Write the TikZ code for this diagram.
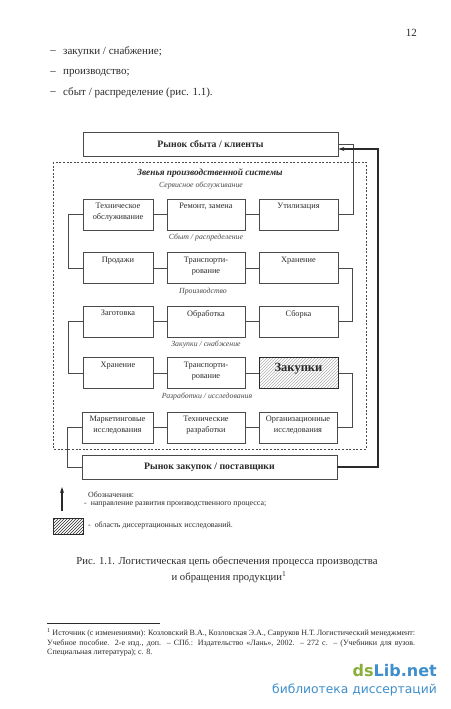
\documentclass[tikz,border=0pt]{standalone}
\usepackage{fontspec}
\setmainfont{Liberation Serif}
\newfontfamily\wmfont{DejaVu Sans}
\usetikzlibrary{patterns,arrows.meta}
\definecolor{ink}{HTML}{2A2A2A}
\definecolor{linec}{HTML}{4A4A4A}
\definecolor{wmgreen}{HTML}{8AAE3A}
\definecolor{wmblue}{HTML}{3E8FCC}
\tikzset{
  box/.style={draw=linec, line width=0.7pt, minimum height=31pt, inner sep=0pt},
  boxtxt/.style={font=\fontsize{8.3}{10.5}\selectfont, text=ink, align=center, anchor=north, inner sep=0pt},
  market/.style={draw=linec, line width=0.8pt, minimum width=255pt, minimum height=24pt, inner sep=0pt, font=\bfseries\fontsize{9.8}{11}\selectfont, text=ink},
  conn/.style={draw=linec, line width=0.6pt},
  rowlbl/.style={font=\itshape\fontsize{7.8}{9}\selectfont, text=ink!85, inner sep=0pt},
  bodytxt/.style={font=\fontsize{11}{13}\selectfont, text=ink, inner sep=0pt, anchor=west},
  legtxt/.style={font=\fontsize{7.9}{9}\selectfont, text=ink, anchor=west, inner sep=0pt},
  fntxt/.style={font=\fontsize{8}{10}\selectfont, text=ink, anchor=west, inner sep=0pt},
  captxt/.style={font=\fontsize{10.7}{13}\selectfont, text=ink, inner sep=0pt},
}
\begin{document}
\begin{tikzpicture}[x=1pt,y=-1pt]
\useasboundingbox[fill=white] (0,0) rectangle (450,709);

% page number and bullet list
\node[bodytxt, anchor=east] (pnum) at (417,33) {12};
\node[bodytxt, anchor=center] (d1) at (53,52) {--};
\node[bodytxt, anchor=center] (d2) at (53,73) {--};
\node[bodytxt, anchor=center] (d3) at (53,93) {--};
\node[bodytxt] (t1) at (63,52) {закупки / снабжение;};
\node[bodytxt] (t2) at (63,73) {производство;};
\node[bodytxt] (t3) at (63,93) {сбыт / распределение (рис. 1.1).};

% dashed frame
\draw[linec, line width=0.6pt, dash pattern=on 2pt off 1.6pt] (53,162) rectangle (366,449);

% markets
\node[market] (top) at (210.5,144.5) {Рынок сбыта / клиенты};
\node[market] (bot) at (209.5,467) {Рынок закупок / поставщики};

% headings
\node[font=\bfseries\itshape\fontsize{9.3}{11}\selectfont, text=ink, inner sep=0pt] (zv) at (210,173) {Звенья производственной системы};
\node[rowlbl] (l1) at (201,186) {Сервисное обслуживание};
\node[rowlbl] (l2) at (206,238) {Сбыт / распределение};
\node[rowlbl] (l3) at (203,292) {Производство};
\node[rowlbl] (l4) at (206,345) {Закупки / снабжение};
\node[rowlbl] (l5) at (207,397) {Разработки / исследования};

% boxes: columns x: 83-153, 167-245, 259-338
% row 1
\node[box, minimum width=70pt] (a1) at (118,214.5) {};
\node[box, minimum width=78pt] (a2) at (206,214.5) {};
\node[box, minimum width=79pt] (a3) at (298.5,214.5) {};
\node[boxtxt] (a1t) at (118,203) {Техническое\\обслуживание};
\node[boxtxt] (a2t) at (206,203) {Ремонт, замена};
\node[boxtxt] (a3t) at (298.5,203) {Утилизация};
% row 2
\node[box, minimum width=70pt] (b1) at (118,268) {};
\node[box, minimum width=78pt] (b2) at (206,268) {};
\node[box, minimum width=79pt] (b3) at (298.5,268) {};
\node[boxtxt] (b1t) at (118,257) {Продажи};
\node[boxtxt] (b2t) at (206,257) {Транспорти-\\рование};
\node[boxtxt] (b3t) at (298.5,257) {Хранение};
% row 3
\node[box, minimum width=70pt] (c1) at (118,321.5) {};
\node[box, minimum width=78pt] (c2) at (206,321.5) {};
\node[box, minimum width=79pt] (c3) at (298.5,321.5) {};
\node[boxtxt] (c1t) at (118,310) {Заготовка};
\node[boxtxt] (c2t) at (206,310) {Обработка};
\node[boxtxt] (c3t) at (298.5,310) {Сборка};
% row 4
\node[box, minimum width=70pt] (e1) at (118,373) {};
\node[box, minimum width=78pt] (e2) at (206,373) {};
\node[box, minimum width=79pt, draw=ink, line width=1pt, pattern=north east lines, pattern color=black!30] (e3) at (298.5,373) {};
\node[boxtxt] (e1t) at (118,362) {Хранение};
\node[boxtxt] (e2t) at (206,362) {Транспорти-\\рование};
\node[boxtxt, font=\bfseries\fontsize{12.5}{14}\selectfont] (e3t) at (298.5,363) {Закупки};
% row 5
\node[box, minimum width=71pt] (f1) at (117.5,427.5) {};
\node[box, minimum width=78pt] (f2) at (206,427.5) {};
\node[box, minimum width=78pt] (f3) at (298,427.5) {};
\node[boxtxt] (f1t) at (117.5,416) {Маркетинговые\\исследования};
\node[boxtxt] (f2t) at (206,416) {Технические\\разработки};
\node[boxtxt] (f3t) at (298,416) {Организационные\\исследования};

% horizontal connectors inside rows
\foreach \r in {a,b,c,e,f}{
  \draw[conn] (\r1.east) -- (\r2.west);
  \draw[conn] (\r2.east) -- (\r3.west);
}
% serpentine connectors
\draw[conn] (f1.west) -- ++(-14,0) |- (bot.west);
\draw[conn] (f3.east) -- (352,427.5) |- (e3.east);
\draw[conn] (e1.west) -- ++(-14,0) |- (c1.west);
\draw[conn] (c3.east) -- (352,321.5) |- (b3.east);
\draw[conn] (b1.west) -- ++(-14,0) |- (a1.west);
\draw[conn] (a3.east) -- (353,214.5) |- (top.east);

% main thick arrow
\coordinate (arrin) at ([yshift=-4.5pt]top.east);
\draw[draw=ink, line width=1.4pt, -{Stealth[length=6pt,width=4pt]}] (bot.east) -- (378,467) |- (arrin);

% legend
\coordinate (lgA) at (62,511);
\coordinate (lgB) at (62,487);
\draw[draw=ink, line width=1.2pt, -{Stealth[length=6pt,width=4pt]}] (lgA) -- (lgB);
\node[legtxt] (lg1) at (88,495) {Обозначения:};
\node[legtxt] (lg2) at (84,504.5) {-\ \ направление развития производственного процесса;};
\node[draw=ink, line width=0.8pt, pattern=north east lines, pattern color=ink, minimum width=30pt, minimum height=16pt, inner sep=0pt] (lgbox) at (68,526) {};
\node[legtxt] (lg3) at (88,526) {-\ \ область диссертационных исследований.};

% caption
\node[captxt] (cap1) at (227,562) {Рис. 1.1. Логистическая цепь обеспечения процесса производства};
\node[captxt] (cap2) at (229,577) {и обращения продукции\textsuperscript{1}};

% footnote
\draw[ink, line width=0.5pt] (47,623) -- (160,623);
\node[fntxt] (fn1) at (47,633) {\makebox[368pt][s]{\textsuperscript{1} Источник (с изменениями): Козловский В.А., Козловская Э.А., Савруков Н.Т. Логистический менеджмент:}};
\node[fntxt] (fn2) at (47,643) {\makebox[368pt][s]{Учебное пособие. 2-е изд., доп. – СПб.: Издательство «Лань», 2002. – 272 с. – (Учебники для вузов.}};
\node[fntxt] (fn3) at (47,653) {Специальная литература); с. 8.};

% watermark
\node[font=\wmfont\bfseries\fontsize{16}{18}\selectfont, anchor=base east, inner sep=0pt] (wm1) at (437,676) {\textcolor{wmgreen}{ds}\textcolor{wmblue}{Lib.net}};
\node[font=\wmfont\fontsize{12.3}{14}\selectfont, text=wmblue, anchor=base east, inner sep=0pt] (wm2) at (437,693) {библиотека диссертаций};
\end{tikzpicture}
\end{document}
